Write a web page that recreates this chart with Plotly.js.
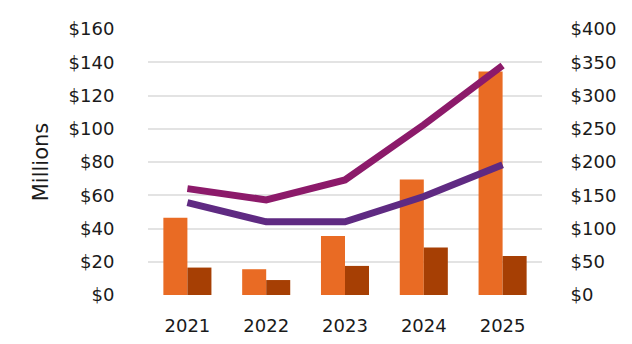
<!DOCTYPE html>
<html>
<head>
<meta charset="utf-8">
<script src="https://cdn.plot.ly/plotly-3.0.1.min.js"></script>
<style>html,body{margin:0;padding:0;background:#fff;}#chart{width:632px;height:344px;}</style>
</head>
<body>
<div id="chart"></div>
<script>
const years = ["2021", "2022", "2023", "2024", "2025"];
const barA = [46.5, 15.5, 35.5, 69.5, 134.5];
const barB = [16.5, 9, 17.5, 28.5, 23.5];
const lineA = [160, 143, 173, 256, 345];
const lineB = [139, 110, 110, 148, 196];
const leftTicks = [0, 20, 40, 60, 80, 100, 120, 140, 160];
const rightTicks = [0, 50, 100, 150, 200, 250, 300, 350, 400];

const font = {family: "DejaVu Sans, sans-serif", size: 18, color: "#1a1a1a"};
const titleFont = {family: "DejaVu Sans, sans-serif", size: 21, color: "#1a1a1a"};

const data = [
  {type: "bar", x: years, y: barA, marker: {color: "#E96B24"}, yaxis: "y", hoverinfo: "none"},
  {type: "bar", x: years, y: barB, marker: {color: "#A63F04"}, yaxis: "y", hoverinfo: "none"},
  {type: "scatter", mode: "lines", x: years, y: lineA, yaxis: "y2", line: {color: "#8C1A6A", width: 7}, hoverinfo: "none"},
  {type: "scatter", mode: "lines", x: years, y: lineB, yaxis: "y2", line: {color: "#5F2A82", width: 7}, hoverinfo: "none"}
];

const layout = {
  width: 632, height: 344,
  margin: {l: 148, r: 90, t: 29, b: 49},
  paper_bgcolor: "#fff", plot_bgcolor: "#fff",
  showlegend: false,
  barmode: "group", bargap: 0.39, bargroupgap: 0,
  font: font,
  xaxis: {
    type: "category", showgrid: false, zeroline: false, showline: false,
    ticks: "outside", ticklen: 14, tickcolor: "rgba(0,0,0,0)", tickfont: font
  },
  yaxis: {
    range: [0, 160], tickvals: leftTicks, ticktext: leftTicks.map(v => "$" + v),
    showgrid: true, gridcolor: "#e3e3e3", gridwidth: 2, zeroline: false, showline: false,
    ticks: "outside", ticklen: 29, tickcolor: "rgba(0,0,0,0)", tickfont: font,
    title: {text: "Millions", font: titleFont, standoff: 14}
  },
  yaxis2: {
    overlaying: "y", side: "right", range: [0, 400], tickvals: rightTicks,
    ticktext: rightTicks.map(v => "$" + v),
    showgrid: false, zeroline: false, showline: false,
    ticks: "outside", ticklen: 24, tickcolor: "rgba(0,0,0,0)", tickfont: font
  }
};

Plotly.newPlot("chart", data, layout, {displayModeBar: false, staticPlot: true});
</script>
</body>
</html>
